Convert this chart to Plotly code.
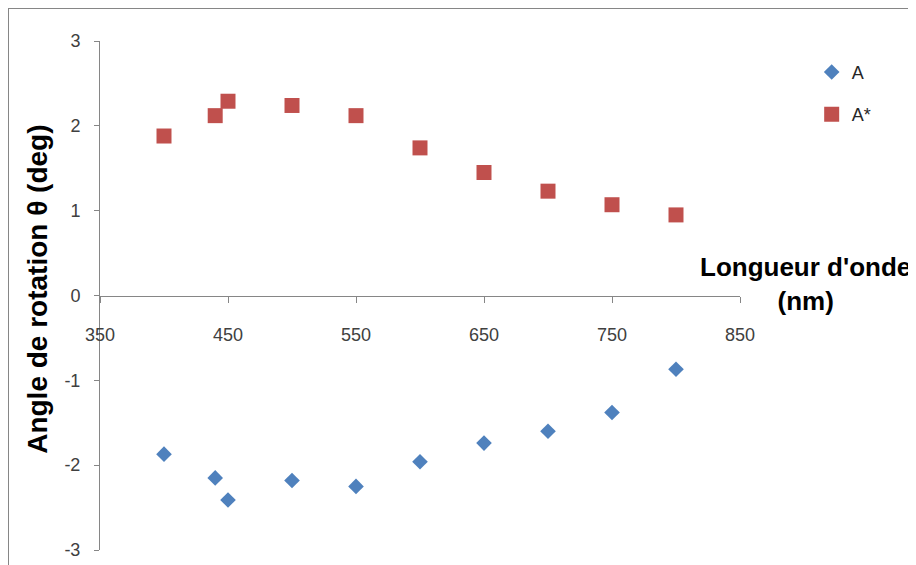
import plotly.graph_objects as go

wavelength = [400, 440, 450, 500, 550, 600, 650, 700, 750, 800]
theta_A = [-1.87, -2.15, -2.41, -2.18, -2.25, -1.96, -1.74, -1.60, -1.38, -0.87]
theta_Astar = [1.88, 2.12, 2.29, 2.24, 2.12, 1.74, 1.45, 1.23, 1.07, 0.95]
x_ticks = [350, 450, 550, 650, 750, 850]
y_ticks = [-3, -2, -1, 0, 1, 2, 3]

fig = go.Figure()
fig.add_trace(go.Scatter(
    x=wavelength, y=theta_A, mode="markers", name="A", legendgroup="a",
    marker=dict(symbol="diamond", size=12, color="#4F81BD"),
))
fig.add_trace(go.Scatter(
    x=wavelength, y=theta_Astar, mode="markers", name="A*", legendgroup="b",
    marker=dict(symbol="square", size=15, color="#C0504D"),
))

axis_col = "#868686"
tick_font = dict(family="Liberation Sans, Arial, sans-serif", size=18, color="#404040")

fig.update_layout(
    width=916, height=565,
    margin=dict(l=92, r=184, t=33, b=23),
    paper_bgcolor="white", plot_bgcolor="white",
    showlegend=True,
    legend=dict(x=1.112, y=0.975, xanchor="left", yanchor="top",
                font=dict(family="Liberation Sans, Arial, sans-serif", size=18, color="#262626"),
                tracegroupgap=16, traceorder="grouped", bgcolor="rgba(0,0,0,0)"),
    xaxis=dict(range=[350, 850], tickvals=x_ticks, ticktext=[str(v) for v in x_ticks],
               showgrid=False, zeroline=False, showline=True, linecolor=axis_col, linewidth=1,
               ticks="outside", ticklen=6, tickcolor=axis_col, tickfont=tick_font,
               anchor="free", position=0.5, ticklabelstandoff=17),
    yaxis=dict(range=[-3, 3], tickvals=y_ticks, ticktext=[str(v) for v in y_ticks],
               showgrid=False, zeroline=False, showline=True, linecolor=axis_col, linewidth=1,
               ticks="outside", ticklen=5, tickcolor=axis_col, tickfont=tick_font,
               ticklabelstandoff=10),
)

fig.add_annotation(text="<b>Angle de rotation θ (deg)</b>", textangle=-90,
                   xref="paper", yref="paper", x=-0.097, y=0.513,
                   xanchor="center", yanchor="middle", showarrow=False,
                   font=dict(family="Liberation Sans, Arial, sans-serif", size=28, color="#000000"))
fig.add_annotation(text="<b>Longueur d'onde<br>(nm)</b>",
                   xref="paper", yref="paper", x=1.103, y=0.523,
                   xanchor="center", yanchor="middle", showarrow=False,
                   font=dict(family="Liberation Sans, Arial, sans-serif", size=26, color="#000000"))

# outer chart border (partially visible)
fig.add_shape(type="line", xref="paper", yref="paper", x0=-0.14375, x1=-0.14375, y0=-0.2, y1=1.065,
              line=dict(color=axis_col, width=2))
fig.add_shape(type="line", xref="paper", yref="paper", x0=-0.14375, x1=1.5, y0=1.065, y1=1.065,
              line=dict(color=axis_col, width=2))

fig.write_html("out.html")
